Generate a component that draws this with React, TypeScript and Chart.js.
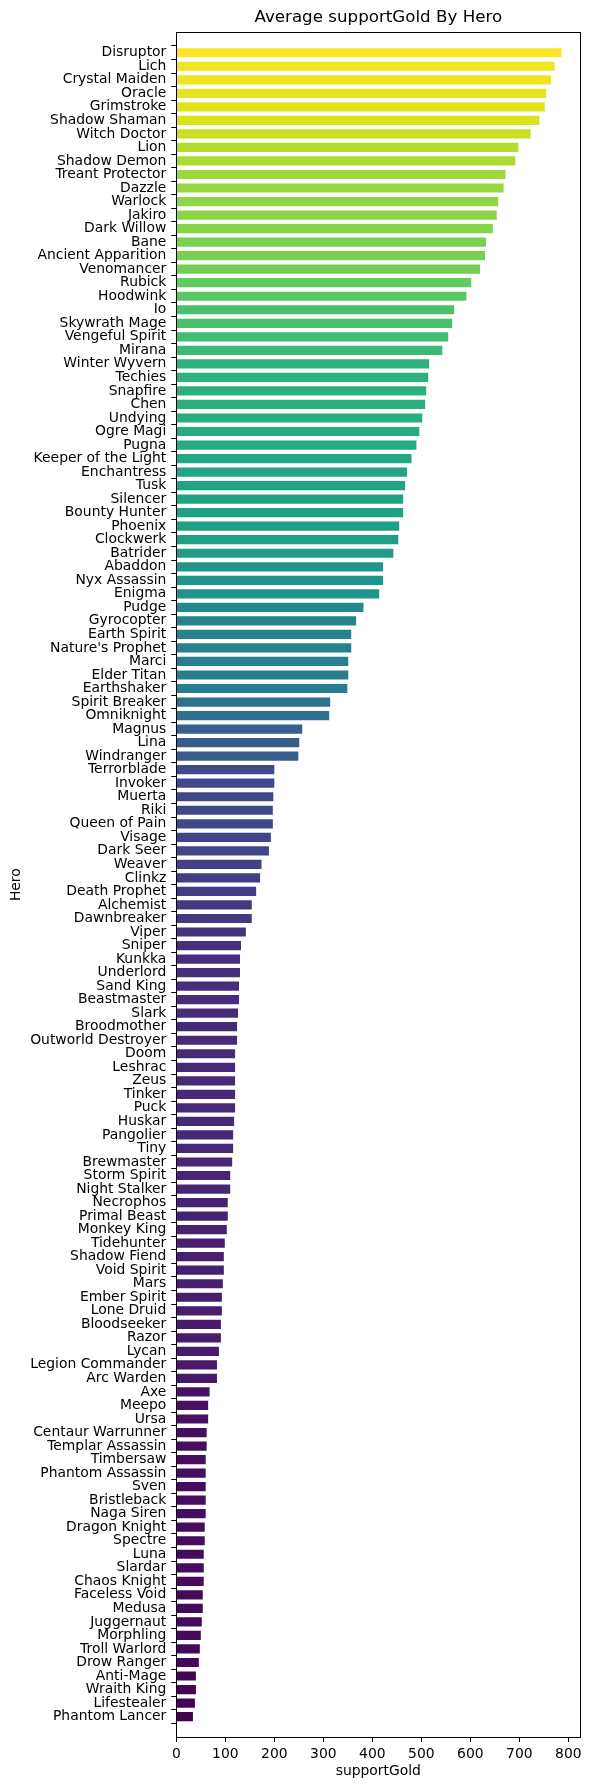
import React, { useEffect, useRef } from "react";
import { Chart, registerables } from "chart.js";

Chart.register(...registerables);

const HEROES: string[] = [
  "Disruptor", "Lich", "Crystal Maiden", "Oracle", "Grimstroke", "Shadow Shaman", "Witch Doctor", "Lion",
  "Shadow Demon", "Treant Protector", "Dazzle", "Warlock", "Jakiro", "Dark Willow", "Bane", "Ancient Apparition",
  "Venomancer", "Rubick", "Hoodwink", "Io", "Skywrath Mage", "Vengeful Spirit", "Mirana", "Winter Wyvern",
  "Techies", "Snapfire", "Chen", "Undying", "Ogre Magi", "Pugna", "Keeper of the Light", "Enchantress",
  "Tusk", "Silencer", "Bounty Hunter", "Phoenix", "Clockwerk", "Batrider", "Abaddon", "Nyx Assassin",
  "Enigma", "Pudge", "Gyrocopter", "Earth Spirit", "Nature's Prophet", "Marci", "Elder Titan", "Earthshaker",
  "Spirit Breaker", "Omniknight", "Magnus", "Lina", "Windranger", "Terrorblade", "Invoker", "Muerta",
  "Riki", "Queen of Pain", "Visage", "Dark Seer", "Weaver", "Clinkz", "Death Prophet", "Alchemist",
  "Dawnbreaker", "Viper", "Sniper", "Kunkka", "Underlord", "Sand King", "Beastmaster", "Slark",
  "Broodmother", "Outworld Destroyer", "Doom", "Leshrac", "Zeus", "Tinker", "Puck", "Huskar",
  "Pangolier", "Tiny", "Brewmaster", "Storm Spirit", "Night Stalker", "Necrophos", "Primal Beast", "Monkey King",
  "Tidehunter", "Shadow Fiend", "Void Spirit", "Mars", "Ember Spirit", "Lone Druid", "Bloodseeker", "Razor",
  "Lycan", "Legion Commander", "Arc Warden", "Axe", "Meepo", "Ursa", "Centaur Warrunner", "Templar Assassin",
  "Timbersaw", "Phantom Assassin", "Sven", "Bristleback", "Naga Siren", "Dragon Knight", "Spectre", "Luna",
  "Slardar", "Chaos Knight", "Faceless Void", "Medusa", "Juggernaut", "Morphling", "Troll Warlord", "Drow Ranger",
  "Anti-Mage", "Wraith King", "Lifestealer", "Phantom Lancer",
];

const SUPPORT_GOLD: number[] = [
  786, 772, 765, 755, 752, 741, 723, 698,
  692, 672, 668, 657, 654, 646, 632, 630,
  620, 602, 592, 567, 563, 555, 543, 516,
  514, 510, 508, 502, 496, 490, 480, 471,
  467, 463, 463, 455, 453, 443, 422, 422,
  414, 382, 367, 357, 357, 351, 351, 349,
  314, 312, 257, 251, 249, 200, 200, 198,
  197, 197, 193, 189, 174, 171, 163, 154,
  154, 142, 132, 130, 130, 128, 128, 126,
  124, 124, 120, 120, 120, 120, 120, 118,
  116, 116, 114, 110, 110, 105, 105, 103,
  99, 97, 97, 95, 93, 93, 91, 91,
  87, 83, 83, 68, 65, 65, 62, 62,
  60, 60, 60, 60, 60, 58, 58, 56,
  56, 56, 54, 54, 52, 50, 48, 46,
  40, 40, 38, 34,
];

const X_TICKS: number[] = [0, 100, 200, 300, 400, 500, 600, 700, 800];

const VIRIDIS: string[] = [
  "#440154", "#481769", "#472d7b", "#424086", "#3b528b", "#33638d", "#2c728e", "#26828e",
  "#21918c", "#1fa088", "#28ae80", "#3fbc73", "#5ec962", "#84d44b", "#addc30", "#d8e219", "#fde725",
];

function hexToRgb(h: string): number[] {
  return [parseInt(h.slice(1, 3), 16), parseInt(h.slice(3, 5), 16), parseInt(h.slice(5, 7), 16)];
}

function viridis(t: number): string {
  const c = Math.max(0, Math.min(1, t)) * (VIRIDIS.length - 1);
  const i = Math.min(Math.floor(c), VIRIDIS.length - 2);
  const f = c - i;
  const a = hexToRgb(VIRIDIS[i]);
  const b = hexToRgb(VIRIDIS[i + 1]);
  const r = a.map((v, k) => Math.round(v + (b[k] - v) * f));
  return `rgb(${r[0]},${r[1]},${r[2]})`;
}

const FONT = "'DejaVu Sans', 'Liberation Sans', sans-serif";

const framePlugin = {
  id: "frame",
  afterDraw(chart: any) {
    const { ctx, chartArea } = chart;
    ctx.save();
    ctx.strokeStyle = "#000";
    ctx.lineWidth = 1;
    ctx.strokeRect(
      Math.round(chartArea.left) + 0.5,
      Math.round(chartArea.top) + 0.5,
      Math.round(chartArea.right - chartArea.left),
      Math.round(chartArea.bottom - chartArea.top)
    );
    ctx.restore();
  },
};

export default function App() {
  const ref = useRef<HTMLCanvasElement | null>(null);

  useEffect(() => {
    document.body.style.margin = "0";
    const canvas = ref.current;
    if (!canvas) return;
    const vmin = Math.min(...SUPPORT_GOLD);
    const vmax = Math.max(...SUPPORT_GOLD);
    const colors = SUPPORT_GOLD.map((v) => viridis((v - vmin) / (vmax - vmin)));

    const chart = new Chart(canvas, {
      type: "bar",
      data: {
        datasets: [
          {
            data: SUPPORT_GOLD.map((v, i) => ({ x: v, y: i })),
            backgroundColor: colors,
            borderWidth: 0,
            categoryPercentage: 1,
            barPercentage: 0.68,
          },
        ],
      },
      options: {
        indexAxis: "y",
        responsive: false,
        animation: false,
        devicePixelRatio: 1,
        layout: { padding: { left: 0, right: 9.7, top: 0, bottom: 0 } },
        plugins: {
          legend: { display: false },
          tooltip: { enabled: false },
          title: {
            display: true,
            text: "Average supportGold By Hero",
            fullSize: false,
            color: "#000",
            font: { family: FONT, size: 16.7, weight: "normal" },
            padding: { top: 8, bottom: 4.3 },
          },
        },
        scales: {
          x: {
            type: "linear",
            position: "bottom",
            min: 0,
            max: 824.5,
            afterFit: (scale: any) => {
              scale.height = 53;
            },
            afterBuildTicks: (scale: any) => {
              scale.ticks = X_TICKS.map((v) => ({ value: v }));
            },
            ticks: {
              color: "#000",
              font: { family: FONT, size: 13.9 },
              padding: 4,
              includeBounds: false,
              maxRotation: 0,
            },
            grid: { drawOnChartArea: false, drawTicks: true, tickLength: 5, color: "#000", lineWidth: 1 },
            border: { display: true, color: "#000", width: 1 },
            title: {
              display: true,
              text: "supportGold",
              color: "#000",
              font: { family: FONT, size: 13.9 },
              padding: { top: 0, bottom: 10 },
            },
          },
          y: {
            type: "linear",
            position: "left",
            reverse: true,
            min: -1,
            max: HEROES.length,
            afterFit: (scale: any) => {
              scale.width = 176.3;
            },
            afterBuildTicks: (scale: any) => {
              scale.ticks = HEROES.map((_, i) => ({ value: i }));
            },
            ticks: {
              color: "#000",
              autoSkip: false,
              font: { family: FONT, size: 13.9 },
              padding: 5,
              callback: (v: any) => HEROES[v as number] ?? "",
            },
            grid: { drawOnChartArea: false, drawTicks: true, tickLength: 5, color: "#000", lineWidth: 1 },
            border: { display: true, color: "#000", width: 1 },
            title: {
              display: true,
              text: "Hero",
              color: "#000",
              font: { family: FONT, size: 13.9 },
              padding: { top: 7.7, bottom: 0 },
            },
          },
        },
      },
      plugins: [framePlugin],
    } as any);

    return () => chart.destroy();
  }, []);

  return (
    <div style={{ width: 590, height: 1790 }}>
      <canvas ref={ref} width={590} height={1790} style={{ display: "block" }} />
    </div>
  );
}
